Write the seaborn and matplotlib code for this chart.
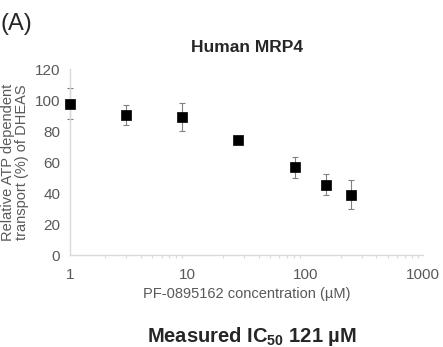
import numpy as np
import pandas as pd
import seaborn as sns
import matplotlib.pyplot as plt

# data
conc_um = [1, 3, 9, 27, 81, 150, 243]
rel_transport = [97.5, 90.5, 89.0, 74.0, 56.5, 45.5, 39.0]
sd = [10.0, 6.3, 9.0, 1.5, 6.5, 6.8, 9.3]

title = 'Human MRP4'
panel = '(A)'
xlab = 'PF-0895162 concentration (µM)'
ylab = 'Relative ATP dependent\ntransport (%) of DHEAS'
x_ticks = [1, 10, 100, 1000]
y_ticks = [0, 20, 40, 60, 80, 100, 120]

sns.set_style('white')
plt.rcParams['font.family'] = ['Liberation Sans', 'DejaVu Sans']
plt.rcParams['mathtext.fontset'] = 'custom'
plt.rcParams['mathtext.rm'] = 'Liberation Sans'
plt.rcParams['mathtext.bf'] = 'Liberation Sans:bold'

df = pd.DataFrame({'conc': conc_um, 'rel': rel_transport, 'sd': sd})

fig = plt.figure(figsize=(4.43, 3.47), dpi=100)
ax = fig.add_axes([0.158, 0.265, 0.797, 0.536])

grey = '#595959'
light = '#d9d9d9'

ax.errorbar(df['conc'], df['rel'], yerr=df['sd'], fmt='none',
            ecolor='#808080', elinewidth=0.8, capsize=2.5, capthick=0.8,
            zorder=2, clip_on=False)
sns.scatterplot(data=df, x='conc', y='rel', marker='s', s=62, color='black',
                edgecolor='black', linewidth=0.5, ax=ax, zorder=3, legend=False,
                clip_on=False)

ax.set_xscale('log')
ax.set_xlim(1, 1000)
ax.set_ylim(0, 120)
ax.set_xticks(x_ticks)
ax.set_xticklabels([str(t) for t in x_ticks])
ax.set_yticks(y_ticks)

sns.despine(ax=ax)
for side in ['left', 'bottom']:
    ax.spines[side].set_color(light)
    ax.spines[side].set_linewidth(1.0)

ax.tick_params(axis='both', which='major', direction='out', length=4, width=0.8,
               color=light, labelcolor=grey, labelsize=11, pad=3)
ax.tick_params(axis='x', which='minor', bottom=True, direction='out', length=2.5,
               width=0.8, color=light)
ax.tick_params(axis='x', which='major', pad=5)

ax.set_xlabel(xlab, color=grey, fontsize=10.5, labelpad=4)
ax.set_ylabel(ylab, color=grey, fontsize=10.5, linespacing=1.05)
# reference label sits right against the left edge
ax.yaxis.set_label_coords(-0.115, 0.5)

ax.set_title(title, fontsize=12.5, fontweight='bold', pad=12)

fig.text(0.0, 0.932, panel, fontsize=17, ha='left', va='center')
fig.text(0.569, 0.03, r'Measured IC$_{\mathbf{50}}$ 121 µM', fontsize=14.5,
         fontweight='bold', ha='center', va='center')

fig.savefig('out.png', dpi=100)
